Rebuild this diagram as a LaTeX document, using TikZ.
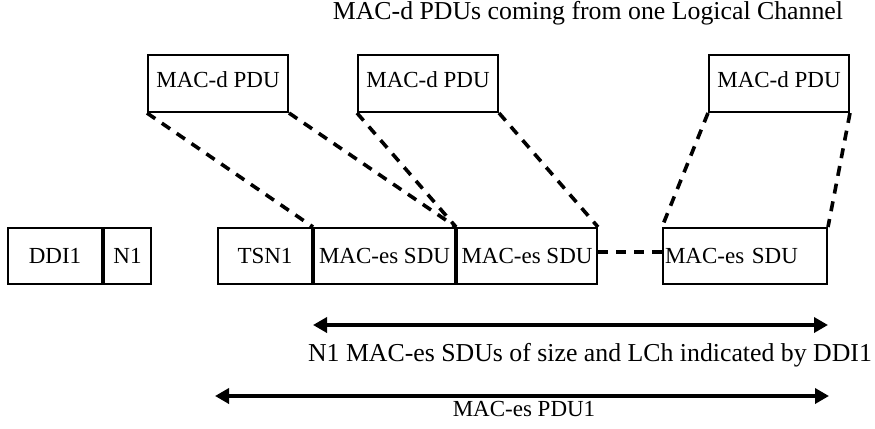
\documentclass[tikz,border=0pt]{standalone}
\usepackage{fontspec}
\setmainfont{Liberation Serif}
\usetikzlibrary{arrows.meta,positioning}
\tikzset{
  font=\fontsize{11.5}{13.8}\selectfont,
  big/.style={font=\fontsize{12.9}{15.5}\selectfont},
  cell/.style={
    draw,
    line width=1pt,
    minimum height=28pt,
    inner sep=0pt
  },
  pdu/.style={
    draw,
    line width=1pt,
    minimum width=70pt,
    minimum height=28.5pt,
    text depth=3.5pt,
    inner sep=0pt
  },
  link/.style={line width=1.8pt, dash pattern=on 5pt off 4pt},
  span/.style={{Triangle[length=7pt,width=7.5pt]}-{Triangle[length=7pt,width=7.5pt]}, line width=1.8pt}
}
\begin{document}
\begin{tikzpicture}[x=0.5pt,y=-0.5pt]
\useasboundingbox (0,0) rectangle (875,429);

\node[big] (title) at (588,13) {MAC-d PDUs coming from one Logical Channel};

% MAC-d PDUs
\node[pdu] (pdua) at (218,83.5) {MAC-d PDU};
\node[pdu] (pdub) at (428,83.5) {MAC-d PDU};
\node[pdu] (pduc) at (779,83.5) {MAC-d PDU};

% MAC-es header and SDUs
\node[cell, minimum width=47pt] (ddi) at (55,256) {DDI1};
\node[cell, minimum width=23.5pt, right=0pt of ddi] (n1) {N1};

\node[cell, minimum width=47pt] (tsn) at (265,256) {TSN1};
\node[cell, minimum width=70.5pt, right=0pt of tsn] (sdua) {MAC-es SDU};
\node[cell, minimum width=70pt, right=0pt of sdua] (sdub) {MAC-es SDU};
\node[cell, text width=80pt, inner xsep=1pt, align=left] (sduc) at (745,256) {MAC-es SDU};

\draw[link] (pdua.south west) -- (sdua.north west);
\draw[link] (pdua.south east) -- (sdub.north west);
\draw[link] (pdub.south west) -- (sdub.north west);
\draw[link] (pdub.south east) -- (sdub.north east);
\draw[link] (pduc.south west) -- (sduc.north west);
\draw[link] (pduc.south east) -- (sduc.north east);
\draw[link] ([yshift=2pt]sdub.east) -- ([yshift=2pt]sduc.west);

% lengths
\coordinate (sizel) at ([yshift=-20pt]sdua.south west);
\coordinate (sizer) at ([yshift=-20pt]sduc.south east);
\coordinate (pdul) at ([xshift=-1pt,yshift=-55.5pt]tsn.south west);
\coordinate (pdur) at ([xshift=0.5pt,yshift=-55.5pt]sduc.south east);
\draw[span] (sizel) -- (sizer);
\draw[span] (pdul) -- (pdur);

\node[big] (sizelbl) at (590,355) {N1 MAC-es SDUs of size and LCh indicated by DDI1};
\node (pdulbl) at (524,409) {MAC-es PDU1};

\end{tikzpicture}
\end{document}
